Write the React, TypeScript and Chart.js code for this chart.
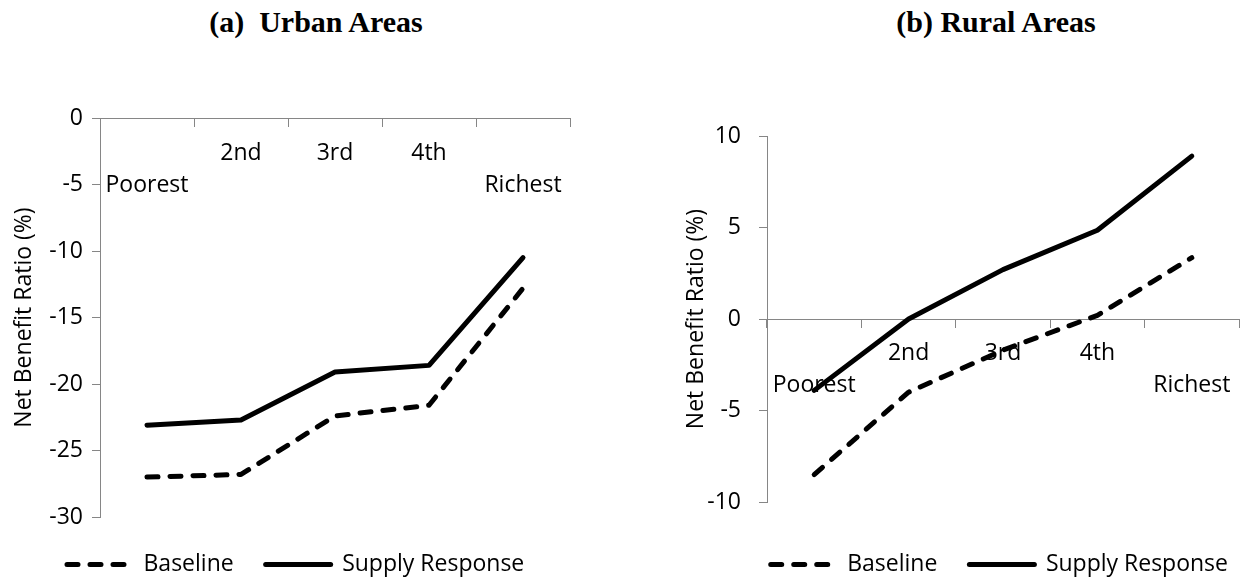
import React, { useEffect, useRef } from "react";
import { Chart, registerables } from "chart.js";

Chart.register(...registerables);

// ---------------- data ----------------
const quintiles: (string | string[])[] = [["", "Poorest"], "2nd", "3rd", "4th", ["", "Richest"]];
const seriesLabels = ["Baseline", "Supply Response"];
const urbanBaseline = [-27.0, -26.8, -22.4, -21.6, -12.8];
const urbanSupply = [-23.1, -22.7, -19.1, -18.6, -10.5];
const ruralBaseline = [-8.5, -4.0, -1.7, 0.2, 3.35];
const ruralSupply = [-3.9, 0.0, 2.7, 4.85, 8.9];
const urbanYRange = [-30, 0];
const ruralYRange = [-10, 10];
const yStep = 5;
const yAxisTitle = "Net Benefit Ratio (%)";
const panelTitles = ["(a)  Urban Areas", "(b) Rural Areas"];

// ---------------- style ----------------
const FONT = "'Open Sans', sans-serif";
const FS = 23;
const AXIS = "#868686";
const DASH = [11, 12];

type Layout = {
  left: number;
  width: number;
  height: number;
  padL: number;
  padR: number;
  padT: number;
  yWidth: number;
  yTitlePad: number;
  yTickPad: number;
  xTickPad: number;
  xPadRight: number;
  legendAlign: "start" | "end" | "center";
  legendShift: number;
};

function Panel(props: { baseline: number[]; supply: number[]; range: number[]; layout: Layout }) {
  const ref = useRef<HTMLCanvasElement | null>(null);
  const { baseline, supply, range, layout: L } = props;

  useEffect(() => {
    if (!ref.current) return;
    const chart = new Chart(ref.current, {
      type: "line",
      data: {
        labels: quintiles as any,
        datasets: [
          {
            label: seriesLabels[0],
            data: baseline,
            borderColor: "#000",
            backgroundColor: "#000",
            borderWidth: 5,
            borderDash: DASH,
            borderCapStyle: "round",
            borderJoinStyle: "round",
            pointRadius: 0,
            tension: 0,
            fill: false,
          },
          {
            label: seriesLabels[1],
            data: supply,
            borderColor: "#000",
            backgroundColor: "#000",
            borderWidth: 5,
            borderCapStyle: "round",
            borderJoinStyle: "round",
            pointRadius: 0,
            tension: 0,
            fill: false,
          },
        ],
      },
      options: {
        animation: false,
        responsive: false,
        maintainAspectRatio: false,
        devicePixelRatio: 1,
        events: [],
        layout: { padding: { left: L.padL, right: L.padR, top: L.padT, bottom: 0 } },
        plugins: {
          title: { display: false },
          tooltip: { enabled: false },
          legend: {
            display: true,
            position: "bottom",
            align: L.legendAlign,
            title: {
              display: true,
              text: "",
              font: { size: 1, lineHeight: 1 },
              padding: { top: L.legendShift - 1, bottom: 0 },
            },
            labels: {
              usePointStyle: true,
              pointStyle: "line",
              pointStyleWidth: 65,
              boxWidth: 65,
              padding: 32,
              color: "#000",
              font: { family: FONT, size: FS },
              generateLabels: (c: any) => {
                const items = (Chart.defaults.plugins.legend.labels as any).generateLabels(c);
                items.forEach((it: any) => {
                  const ds: any = c.data.datasets[it.datasetIndex];
                  it.lineDash = ds.borderDash || [];
                  it.lineCap = "round";
                  it.lineJoin = "round";
                  it.lineWidth = 5;
                  it.strokeStyle = "#000";
                  it.fillStyle = "#000";
                  it.pointStyle = "line";
                });
                return items;
              },
            },
          },
        },
        scales: {
          x: {
            type: "category",
            position: { y: 0 } as any,
            offset: true,
            grid: {
              display: true,
              drawOnChartArea: false,
              drawTicks: true,
              tickLength: 8,
              offset: true,
              color: AXIS,
              lineWidth: 1,
            },
            border: { display: true, color: AXIS, width: 1 },
            ticks: {
              color: "#000",
              font: { family: FONT, size: FS, lineHeight: 1.4 },
              padding: L.xTickPad,
              maxRotation: 0,
              minRotation: 0,
              autoSkip: false,
            },
            afterFit: (s: any) => {
              s.paddingRight = L.xPadRight;
            },
          },
          y: {
            type: "linear",
            position: "left",
            min: range[0],
            max: range[1],
            ticks: {
              stepSize: yStep,
              color: "#000",
              font: { family: FONT, size: FS },
              padding: L.yTickPad,
            },
            grid: {
              display: true,
              drawOnChartArea: false,
              drawTicks: true,
              tickLength: 8,
              color: AXIS,
            },
            border: { display: true, color: AXIS, width: 1 },
            title: {
              display: true,
              text: yAxisTitle,
              color: "#000",
              font: { family: FONT, size: FS },
              padding: { top: L.yTitlePad, bottom: 0 },
            },
            afterFit: (s: any) => {
              s.width = L.yWidth;
            },
          },
        },
      } as any,
    });
    return () => chart.destroy();
  }, []);

  return (
    <canvas
      ref={ref}
      width={L.width}
      height={L.height}
      style={{ position: "absolute", left: L.left, top: 0, width: L.width, height: L.height }}
    />
  );
}

const leftLayout: Layout = {
  left: 0,
  width: 620,
  height: 586,
  padL: 35,
  padR: 50,
  padT: 118,
  yWidth: 65,
  yTitlePad: -24.8,
  yTickPad: 9,
  xTickPad: 11,
  xPadRight: 0,
  legendAlign: "start",
  legendShift: 4,
};

const rightLayout: Layout = {
  left: 640,
  width: 620,
  height: 586,
  padL: 30,
  padR: 0,
  padT: 136,
  yWidth: 97,
  yTitlePad: 12.2,
  yTickPad: 18,
  xTickPad: 10,
  xPadRight: 21,
  legendAlign: "end",
  legendShift: 19,
};

const titleStyle = (center: number): React.CSSProperties => ({
  position: "absolute",
  left: center - 200,
  width: 400,
  top: 5,
  textAlign: "center",
  fontFamily: "'Liberation Serif', 'Times New Roman', serif",
  fontWeight: "bold",
  fontSize: 30,
  lineHeight: "34px",
  whiteSpace: "pre",
  color: "#000",
});

export default function App() {
  return (
    <div
      style={{
        position: "fixed",
        left: 0,
        top: 0,
        width: 1245,
        height: 580,
        overflow: "hidden",
        background: "#fff",
      }}
    >
      <div style={titleStyle(316)}>{panelTitles[0]}</div>
      <div style={titleStyle(996)}>{panelTitles[1]}</div>
      <Panel baseline={urbanBaseline} supply={urbanSupply} range={urbanYRange} layout={leftLayout} />
      <Panel baseline={ruralBaseline} supply={ruralSupply} range={ruralYRange} layout={rightLayout} />
    </div>
  );
}
